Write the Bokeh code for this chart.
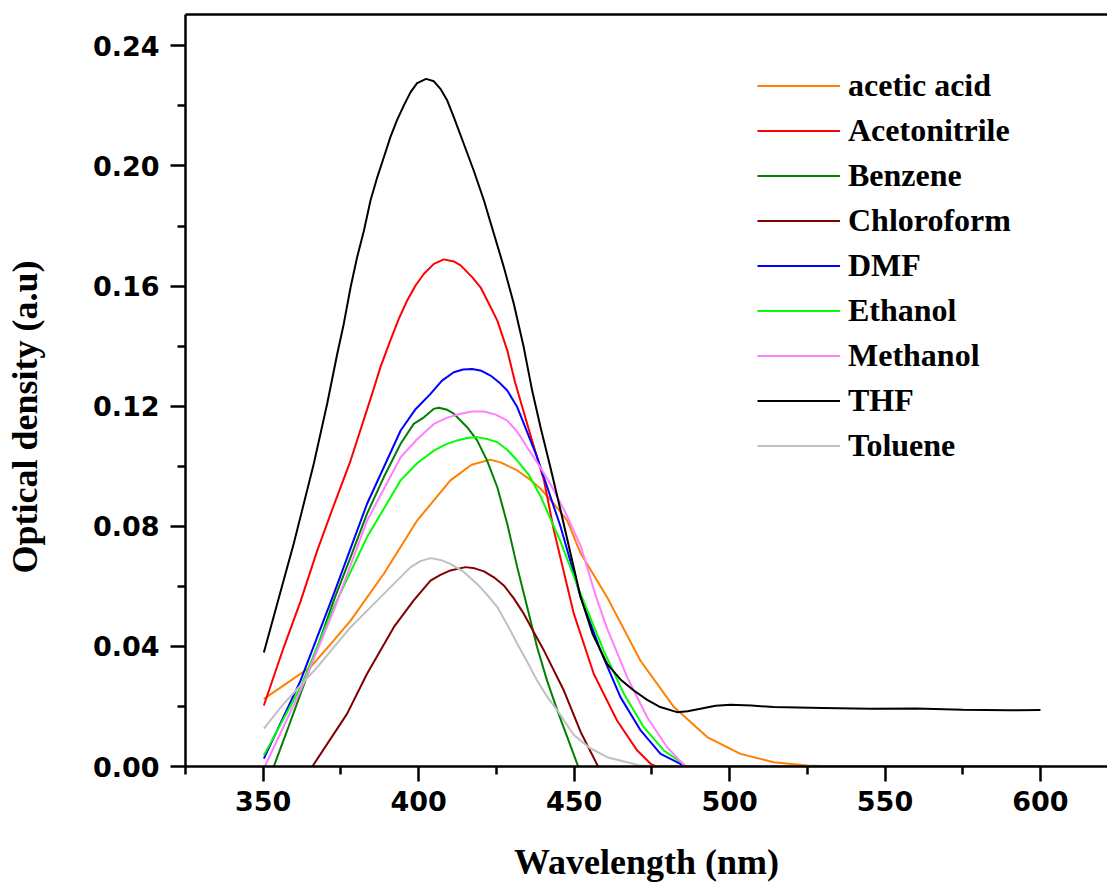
from bokeh.plotting import figure
from bokeh.models import Range1d, FixedTicker, LinearAxis, Legend, LegendItem, PrintfTickFormatter, Title
from bokeh.embed import file_html
from bokeh.resources import INLINE

# ---------------- data ----------------
acetic_nm = [350.2, 356.6, 362.0, 365.2, 372.7, 378.1, 388.8, 399.5, 410.2, 417.0, 423.1, 426.5, 431.7,
             435.5, 439.2, 443.5, 447.8, 452.1, 460.6, 471.3, 482.1, 492.8, 503.5, 514.2, 525.0, 535.0, 600.0]
acetic_od = [0.0225, 0.0270, 0.0309, 0.0331, 0.0420, 0.0486, 0.0642, 0.0819, 0.0953, 0.1005, 0.1022, 0.1012, 0.0986,
             0.0958, 0.0925, 0.0875, 0.0819, 0.0710, 0.0564, 0.0353, 0.0198, 0.0098, 0.0042, 0.0014, 0.0003, 0.0, 0.0]

acn_nm = [350.2, 356.6, 362.0, 367.4, 372.7, 378.1, 385.0, 387.7, 390.9, 393.6, 396.3, 399.0, 401.7, 404.9,
          408.1, 411.3, 413.5, 417.2, 419.9, 422.6, 425.3, 428.5, 431.0, 435.5, 440.3, 443.5, 449.9, 456.3,
          463.8, 470.3, 474.6, 476.5, 600.0]
acn_od = [0.0203, 0.0397, 0.0550, 0.0720, 0.0870, 0.1019, 0.1240, 0.1330, 0.1419, 0.1491, 0.1552, 0.1602, 0.1641, 0.1674,
          0.1689, 0.1682, 0.1669, 0.1630, 0.1596, 0.1541, 0.1485, 0.1386, 0.1280, 0.1120, 0.0953, 0.0786, 0.0509, 0.0309,
          0.0153, 0.0053, 0.0009, 0.0, 0.0]

benz_nm = [353.4, 357.7, 362.0, 367.4, 372.7, 378.1, 383.4, 388.8, 394.2, 398.4, 401.7, 404.8, 406.5, 409.2, 411.3,
           415.6, 418.8, 422.0, 425.3, 428.5, 431.7, 434.9, 438.1, 441.3, 444.6, 447.8, 451.3]
benz_od = [0.0, 0.0120, 0.0242, 0.0397, 0.0553, 0.0697, 0.0842, 0.0964, 0.1075, 0.1141, 0.1163, 0.1191, 0.1195, 0.1188, 0.1175,
           0.1130, 0.1086, 0.1019, 0.0930, 0.0808, 0.0664, 0.0531, 0.0397, 0.0286, 0.0187, 0.0098, 0.0]

chcl3_nm = [365.8, 377.0, 383.4, 392.0, 398.4, 403.8, 407.0, 410.2, 415.1, 418.0, 421.0, 424.2, 427.4, 430.6,
            433.8, 437.0, 440.3, 446.7, 452.1, 457.7]
chcl3_od = [0.0, 0.0176, 0.0309, 0.0464, 0.0553, 0.0619, 0.0638, 0.0653, 0.0664, 0.0660, 0.0650, 0.0630, 0.0603, 0.0560,
            0.0509, 0.0448, 0.0386, 0.0253, 0.0115, 0.0]

dmf_nm = [350.2, 362.0, 372.7, 383.4, 394.2, 399.0, 403.8, 407.5, 411.3, 414.3, 417.2, 420.2, 423.1, 425.8, 428.5,
          431.7, 438.1, 445.6, 452.1, 458.5, 464.9, 471.4, 477.8, 484.2, 485.5, 600.0]
dmf_od = [0.0026, 0.0286, 0.0575, 0.0875, 0.1119, 0.1190, 0.1241, 0.1285, 0.1313, 0.1322, 0.1324, 0.1318, 0.1302, 0.1280, 0.1252,
          0.1197, 0.1030, 0.0800, 0.0564, 0.0386, 0.0231, 0.0120, 0.0042, 0.0009, 0.0, 0.0]

etoh_nm = [350.2, 362.0, 372.7, 383.4, 394.2, 399.5, 404.9, 408.5, 412.4, 415.6, 418.8, 422.0, 425.3, 428.5, 431.7,
           435.5, 439.2, 445.6, 452.1, 459.5, 466.0, 472.4, 478.9, 485.0, 486.0, 600.0]
etoh_od = [0.0037, 0.0264, 0.0531, 0.0764, 0.0953, 0.1010, 0.1052, 0.1072, 0.1086, 0.1094, 0.1097, 0.1091, 0.1080, 0.1055, 0.1019,
           0.0970, 0.0900, 0.0750, 0.0575, 0.0386, 0.0242, 0.0131, 0.0053, 0.0010, 0.0, 0.0]

meoh_nm = [350.5, 362.0, 372.7, 383.4, 394.2, 399.5, 404.9, 409.2, 413.5, 417.2, 421.0, 424.8, 428.5, 431.7, 434.9,
           438.6, 442.4, 447.0, 452.1, 456.9, 460.6, 467.1, 473.5, 479.9, 485.8, 600.0]
meoh_od = [0.0, 0.0253, 0.0520, 0.0819, 0.1030, 0.1090, 0.1141, 0.1162, 0.1175, 0.1182, 0.1182, 0.1172, 0.1152, 0.1115, 0.1063,
           0.1005, 0.0940, 0.0850, 0.0735, 0.0570, 0.0460, 0.0297, 0.0164, 0.0064, 0.0, 0.0]

thf_nm = [350.2, 354.5, 359.8, 362.5, 366.3, 370.6, 373.8, 375.9, 378.1, 380.2, 382.4, 384.5, 386.7, 388.8, 390.9,
          393.0, 395.2, 397.4, 399.5, 402.4, 404.9, 407.0, 409.2, 411.3, 414.5, 417.7, 421.0, 424.2, 427.4,
          430.6, 433.8, 436.5, 439.2, 442.4, 445.6, 452.0, 456.0, 460.6, 464.9, 469.2, 473.5, 477.7, 483.1,
          486.5, 490.6, 495.5, 500.3, 507.0, 514.2, 530.0, 545.3, 560.0, 575.0, 590.0, 600.0]
thf_od = [0.0380, 0.0542, 0.0742, 0.0853, 0.1010, 0.1210, 0.1374, 0.1474, 0.1596, 0.1696, 0.1785, 0.1885, 0.1963, 0.2029, 0.2096,
          0.2152, 0.2201, 0.2246, 0.2276, 0.2290, 0.2282, 0.2257, 0.2218, 0.2163, 0.2074, 0.1985, 0.1885, 0.1774, 0.1663,
          0.1541, 0.1396, 0.1252, 0.1130, 0.0995, 0.0855, 0.0568, 0.0440, 0.0342, 0.0290, 0.0253, 0.0222, 0.0198, 0.0181,
          0.0184, 0.0192, 0.0202, 0.0206, 0.0203, 0.0198, 0.0195, 0.0192, 0.0193, 0.0189, 0.0187, 0.0188]

tol_nm = [350.2, 356.6, 367.4, 378.1, 388.8, 397.4, 400.6, 403.8, 407.0, 410.2, 414.5, 418.8, 422.0, 425.3, 428.5,
          431.7, 435.0, 438.1, 441.3, 444.6, 449.9, 455.0, 460.6, 471.3, 480.0, 600.0]
tol_od = [0.0126, 0.0209, 0.0331, 0.0464, 0.0575, 0.0664, 0.0684, 0.0694, 0.0688, 0.0675, 0.0648, 0.0608, 0.0572, 0.0531, 0.0472,
          0.0409, 0.0347, 0.0286, 0.0233, 0.0187, 0.0105, 0.0062, 0.0031, 0.0003, 0.0, 0.0]

series_names = ["acetic acid", "Acetonitrile", "Benzene", "Chloroform", "DMF",
                "Ethanol", "Methanol", "THF", "Toluene"]
series_x = [acetic_nm, acn_nm, benz_nm, chcl3_nm, dmf_nm, etoh_nm, meoh_nm, thf_nm, tol_nm]
series_y = [acetic_od, acn_od, benz_od, chcl3_od, dmf_od, etoh_od, meoh_od, thf_od, tol_od]
series_colors = ["#FF8000", "#FF0000", "#008000", "#800000", "#0000FF",
                 "#00FF00", "#FF80FF", "#000000", "#C0C0C0"]

x_major = [350, 400, 450, 500, 550, 600]
x_minor = [325, 375, 425, 475, 525, 575, 625]
y_major = [0.0, 0.04, 0.08, 0.12, 0.16, 0.20, 0.24]
y_minor = [0.02, 0.06, 0.10, 0.14, 0.18, 0.22]

# ---------------- figure ----------------
W, H = 1107, 884
p = figure(width=W, height=H, output_backend="svg", toolbar_location=None,
           x_range=Range1d(325, 621.56), y_range=Range1d(0, 0.25045),
           min_border_left=185, min_border_right=0, min_border_top=14, min_border_bottom=118)
p.outline_line_color = None
p.xgrid.grid_line_color = None
p.ygrid.grid_line_color = None
p.background_fill_color = "white"

TICK_FONT = "DejaVu Sans"
LABEL_FONT = "Liberation Serif"

for ax in (p.xaxis[0], p.yaxis[0]):
    ax.axis_line_width = 2.5
    ax.major_tick_line_width = 2.5
    ax.minor_tick_line_width = 2.5
    ax.major_tick_in = 0
    ax.major_tick_out = 15
    ax.minor_tick_in = 0
    ax.minor_tick_out = 8
    ax.major_label_text_font = TICK_FONT
    ax.major_label_text_font_style = "bold"
    ax.major_label_text_font_size = "27px"
    ax.major_label_text_color = "black"
    ax.axis_label_text_font = LABEL_FONT
    ax.axis_label_text_font_style = "bold"
    ax.axis_label_text_font_size = "36px"
    ax.axis_label_text_color = "black"

p.xaxis.ticker = FixedTicker(ticks=x_major, minor_ticks=x_minor)
p.yaxis.ticker = FixedTicker(ticks=y_major, minor_ticks=y_minor)
p.yaxis.formatter = PrintfTickFormatter(format="%.2f")
p.xaxis.axis_label = "Wavelength (nm)"
p.xaxis.major_label_standoff = 9
p.yaxis.major_label_standoff = 11
p.xaxis.axis_label_standoff = 28

# spacer between the y tick labels and the y title, then the y title itself
spacer = Title(text=" ", text_font_size="1px", standoff=42)
p.add_layout(spacer, "left")
ytitle = Title(text="Optical density (a.u)", align="left", offset=193, standoff=0,
               text_font=LABEL_FONT, text_font_style="bold", text_font_size="36px", text_color="black")
p.add_layout(ytitle, "left")

top = LinearAxis(ticker=FixedTicker(ticks=[]), major_label_text_font_size="0px",
                 axis_line_width=2.5, major_tick_line_color=None, minor_tick_line_color=None)
p.add_layout(top, "above")

items = []
for name, xs, ys, c in zip(series_names, series_x, series_y, series_colors):
    r = p.line(xs, ys, line_color=c, line_width=2)
    items.append(LegendItem(label=name, renderers=[r]))

legend = Legend(items=items, location=(572, 298), border_line_color=None,
                background_fill_alpha=0, padding=0, margin=0, spacing=0,
                glyph_width=83, glyph_height=45, label_height=45, label_standoff=8,
                label_text_font=LABEL_FONT, label_text_font_style="bold",
                label_text_font_size="32px", label_text_color="black")
p.add_layout(legend, "center")

open("out.html", "w").write(file_html(p, INLINE))
